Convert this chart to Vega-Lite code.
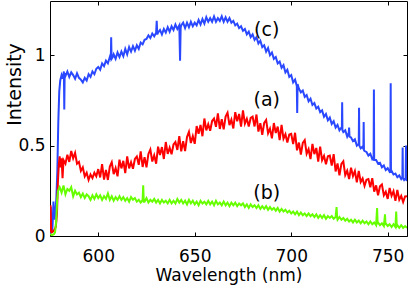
{
"$schema": "https://vega.github.io/schema/vega-lite/v6.json",
"width": 357, "height": 235,
"autosize": "none",
"padding": {"left": 50, "top": 1, "right": 1, "bottom": 56},
"config": {"view": {"stroke": "#000", "strokeWidth": 1}, "font": "DejaVu Sans",
  "axis": {"labelFont": "DejaVu Sans", "labelFontSize": 17, "labelColor": "#000", "titleFont": "DejaVu Sans", "titleFontSize": 17, "titleFontWeight": "normal", "titleColor": "#000", "tickColor": "#000", "domain": false, "grid": false}},
"datasets": {
"c": [
{"w":575,"v":0.01},{"w":575.4,"v":0.16},{"w":575.8,"v":0.02},{"w":576.3,"v":0.05},{"w":576.8,"v":0.19},{"w":577.3,"v":0.09},{"w":577.8,"v":0.13},{"w":578.3,"v":0.21},{"w":578.8,"v":0.36},{"w":579.3,"v":0.63},{"w":579.8,"v":0.8},{"w":580.3,"v":0.86},{"w":581,"v":0.89},{"w":581.6,"v":0.87},{"w":582.2,"v":0.91},{"w":582.4,"v":0.7},{"w":582.6,"v":0.9},{"w":583,"v":0.885},{"w":584,"v":0.91},{"w":585,"v":0.88},{"w":586,"v":0.905},{"w":587,"v":0.89},{"w":588,"v":0.87},{"w":589,"v":0.9},{"w":590,"v":0.875},{"w":591,"v":0.865},{"w":592,"v":0.85},{"w":593,"v":0.875},{"w":594,"v":0.86},{"w":595,"v":0.895},{"w":596,"v":0.88},{"w":597,"v":0.91},{"w":598,"v":0.895},{"w":599,"v":0.925},
{"w":600,"v":0.935},{"w":601,"v":0.92},{"w":602,"v":0.955},{"w":603,"v":0.94},{"w":604,"v":0.97},{"w":605,"v":0.955},{"w":606,"v":0.99},{"w":606.5,"v":0.975},{"w":606.7,"v":1.1},{"w":606.9,"v":0.98},{"w":607.5,"v":0.99},{"w":608,"v":1.005},{"w":609,"v":0.98},{"w":610,"v":1.015},{"w":611,"v":0.99},{"w":612,"v":1.02},{"w":613,"v":0.995},{"w":614,"v":1.035},{"w":615,"v":1.005},{"w":616,"v":1.045},{"w":617,"v":1.02},{"w":618,"v":1.05},{"w":619,"v":1.025},{"w":620,"v":1.055},{"w":621,"v":1.035},{"w":622,"v":1.07},{"w":623,"v":1.06},{"w":624,"v":1.085},{"w":625,"v":1.09},{"w":626,"v":1.11},{"w":627,"v":1.095},{"w":628,"v":1.12},{"w":629,"v":1.105},{"w":630,"v":1.125},{"w":630.3,"v":1.19},{"w":630.6,"v":1.115},{"w":631,"v":1.125},{"w":632,"v":1.14},{"w":633,"v":1.115},{"w":634,"v":1.145},{"w":635,"v":1.125},{"w":636,"v":1.155},{"w":637,"v":1.13},{"w":638,"v":1.16},{"w":639,"v":1.14},{"w":640,"v":1.17},{"w":641,"v":1.145},{"w":642,"v":1.165},{"w":642.4,"v":0.97},{"w":642.7,"v":1.15},{"w":643,"v":1.165},{"w":644,"v":1.18},{"w":645,"v":1.15},{"w":646,"v":1.18},{"w":647,"v":1.155},{"w":648,"v":1.185},{"w":649,"v":1.16},
{"w":650,"v":1.18},{"w":651,"v":1.165},{"w":652,"v":1.195},{"w":653,"v":1.17},{"w":654,"v":1.2},{"w":655,"v":1.175},{"w":656,"v":1.21},{"w":657,"v":1.185},{"w":658,"v":1.205},{"w":659,"v":1.185},{"w":660,"v":1.215},{"w":661,"v":1.185},{"w":662,"v":1.205},{"w":663,"v":1.19},{"w":664,"v":1.215},{"w":665,"v":1.185},{"w":666,"v":1.21},{"w":667,"v":1.185},{"w":668,"v":1.205},{"w":669,"v":1.18},{"w":670,"v":1.19},{"w":671,"v":1.165},{"w":672,"v":1.175},{"w":673,"v":1.15},{"w":674,"v":1.16},{"w":675,"v":1.135},{"w":676,"v":1.145},{"w":677,"v":1.115},{"w":678,"v":1.13},{"w":679,"v":1.1},{"w":680,"v":1.115},{"w":681,"v":1.085},{"w":682,"v":1.1},{"w":683,"v":1.065},{"w":684,"v":1.08},{"w":685,"v":1.045},{"w":686,"v":1.055},{"w":687,"v":1.02},{"w":688,"v":1.04},{"w":689,"v":1.0},{"w":690,"v":1.015},{"w":691,"v":0.98},{"w":692,"v":0.99},{"w":693,"v":0.955},{"w":694,"v":0.965},{"w":695,"v":0.93},{"w":696,"v":0.945},{"w":697,"v":0.905},{"w":698,"v":0.92},{"w":699,"v":0.88},
{"w":700,"v":0.89},{"w":701,"v":0.85},{"w":702,"v":0.865},{"w":702.9,"v":0.83},{"w":703.1,"v":0.68},{"w":703.3,"v":0.84},{"w":704,"v":0.815},{"w":705,"v":0.795},{"w":706,"v":0.805},{"w":707,"v":0.77},{"w":708,"v":0.78},{"w":709,"v":0.745},{"w":710,"v":0.76},{"w":711,"v":0.725},{"w":712,"v":0.735},{"w":713,"v":0.705},{"w":714,"v":0.715},{"w":715,"v":0.685},{"w":716,"v":0.695},{"w":717,"v":0.66},{"w":718,"v":0.675},{"w":719,"v":0.64},{"w":720,"v":0.655},{"w":721,"v":0.62},{"w":722,"v":0.635},{"w":723,"v":0.6},{"w":724,"v":0.615},{"w":725,"v":0.585},{"w":726,"v":0.6},{"w":726.25,"v":0.59},{"w":726.4,"v":0.74},{"w":726.55,"v":0.585},{"w":727,"v":0.575},{"w":728,"v":0.585},{"w":729,"v":0.55},{"w":729.8,"v":0.57},{"w":730,"v":0.6},{"w":730.2,"v":0.55},{"w":731,"v":0.545},{"w":732,"v":0.525},{"w":733,"v":0.535},{"w":734,"v":0.5},{"w":735,"v":0.51},{"w":735.15,"v":0.71},{"w":735.3,"v":0.5},{"w":736,"v":0.485},{"w":737,"v":0.495},{"w":737.4,"v":0.48},{"w":737.55,"v":0.63},{"w":737.7,"v":0.475},{"w":738,"v":0.47},{"w":739,"v":0.465},{"w":740,"v":0.445},{"w":741,"v":0.455},{"w":742,"v":0.425},{"w":742.7,"v":0.435},{"w":742.85,"v":0.81},{"w":743,"v":0.42},{"w":744,"v":0.42},{"w":745,"v":0.4},{"w":746,"v":0.405},{"w":747,"v":0.38},{"w":748,"v":0.39},{"w":749,"v":0.365},
{"w":750,"v":0.375},{"w":751,"v":0.355},{"w":751.4,"v":0.36},{"w":751.55,"v":0.845},{"w":751.7,"v":0.35},{"w":752,"v":0.36},{"w":753,"v":0.34},{"w":754,"v":0.345},{"w":755,"v":0.325},{"w":756,"v":0.335},{"w":757,"v":0.315},{"w":757.6,"v":0.325},{"w":757.75,"v":0.49},{"w":757.9,"v":0.32},{"w":758.5,"v":0.31},{"w":759.3,"v":0.32},{"w":759.5,"v":0.5},{"w":759.7,"v":0.31},{"w":760,"v":0.305}
],
"a": [
{"w":575,"v":0.02},{"w":575.3,"v":0.17},{"w":575.6,"v":0.03},{"w":576,"v":0.02},{"w":577,"v":0.03},{"w":578,"v":0.05},{"w":578.6,"v":0.12},{"w":579.1,"v":0.3},{"w":579.6,"v":0.4},{"w":580,"v":0.44},{"w":580.5,"v":0.38},{"w":581,"v":0.43},{"w":581.5,"v":0.32},{"w":582,"v":0.42},{"w":583,"v":0.4},{"w":584,"v":0.45},{"w":585,"v":0.41},{"w":586,"v":0.47},{"w":587,"v":0.43},{"w":588,"v":0.46},{"w":589,"v":0.4},{"w":590,"v":0.41},{"w":591,"v":0.36},{"w":592,"v":0.38},{"w":593,"v":0.33},{"w":594,"v":0.35},{"w":595,"v":0.31},{"w":596,"v":0.34},{"w":597,"v":0.32},{"w":598,"v":0.35},{"w":599,"v":0.33},
{"w":600,"v":0.37},{"w":601,"v":0.324},{"w":602,"v":0.398},{"w":603,"v":0.312},{"w":604,"v":0.366},{"w":605,"v":0.31},{"w":606,"v":0.384},{"w":607,"v":0.408},{"w":608,"v":0.342},{"w":609,"v":0.376},{"w":610,"v":0.33},{"w":611,"v":0.422},{"w":612,"v":0.374},{"w":613,"v":0.416},{"w":614,"v":0.348},{"w":615,"v":0.44},{"w":616,"v":0.374},{"w":617,"v":0.408},{"w":618,"v":0.372},{"w":619,"v":0.426},{"w":620,"v":0.44},{"w":621,"v":0.394},{"w":622,"v":0.468},{"w":623,"v":0.382},{"w":624,"v":0.436},{"w":625,"v":0.38},{"w":626,"v":0.454},{"w":627,"v":0.478},{"w":628,"v":0.412},{"w":629,"v":0.446},{"w":630,"v":0.4},{"w":631,"v":0.494},{"w":632,"v":0.448},{"w":633,"v":0.492},{"w":634,"v":0.426},{"w":635,"v":0.52},{"w":636,"v":0.454},{"w":637,"v":0.488},{"w":638,"v":0.452},{"w":639,"v":0.506},{"w":640,"v":0.52},{"w":641,"v":0.476},{"w":642,"v":0.552},{"w":643,"v":0.468},{"w":644,"v":0.524},{"w":645,"v":0.47},{"w":646,"v":0.548},{"w":647,"v":0.576},{"w":648,"v":0.514},{"w":649,"v":0.552},
{"w":650,"v":0.51},{"w":651,"v":0.608},{"w":652,"v":0.566},{"w":653,"v":0.614},{"w":654,"v":0.552},{"w":655,"v":0.65},{"w":656,"v":0.584},{"w":657,"v":0.618},{"w":658,"v":0.582},{"w":659,"v":0.636},{"w":660,"v":0.65},{"w":661,"v":0.604},{"w":662,"v":0.678},{"w":663,"v":0.592},{"w":664,"v":0.646},{"w":665,"v":0.59},{"w":666,"v":0.661},{"w":667,"v":0.682},{"w":668,"v":0.613},{"w":669,"v":0.644},{"w":670,"v":0.595},{"w":671,"v":0.685},{"w":672,"v":0.635},{"w":673,"v":0.675},{"w":674,"v":0.605},{"w":675,"v":0.695},{"w":676,"v":0.622},{"w":677,"v":0.649},{"w":678,"v":0.606},{"w":679,"v":0.653},{"w":680,"v":0.66},{"w":681,"v":0.606},{"w":682,"v":0.672},{"w":683,"v":0.578},{"w":684,"v":0.624},{"w":685,"v":0.56},{"w":686,"v":0.626},{"w":687,"v":0.642},{"w":688,"v":0.568},{"w":689,"v":0.594},{"w":690,"v":0.54},{"w":691,"v":0.625},{"w":692,"v":0.57},{"w":693,"v":0.605},{"w":694,"v":0.53},{"w":695,"v":0.615},{"w":696,"v":0.539},{"w":697,"v":0.563},{"w":698,"v":0.517},{"w":699,"v":0.561},
{"w":700,"v":0.565},{"w":701,"v":0.508},{"w":702,"v":0.571},{"w":703,"v":0.474},{"w":704,"v":0.517},{"w":705,"v":0.45},{"w":706,"v":0.515},{"w":707,"v":0.53},{"w":708,"v":0.455},{"w":709,"v":0.48},{"w":710,"v":0.425},{"w":711,"v":0.509},{"w":712,"v":0.453},{"w":713,"v":0.487},{"w":714,"v":0.411},{"w":715,"v":0.495},{"w":716,"v":0.419},{"w":717,"v":0.443},{"w":718,"v":0.397},{"w":719,"v":0.441},{"w":720,"v":0.445},{"w":721,"v":0.389},{"w":722,"v":0.453},{"w":723,"v":0.357},{"w":724,"v":0.401},{"w":725,"v":0.335},{"w":726,"v":0.399},{"w":727,"v":0.413},{"w":728,"v":0.337},{"w":729,"v":0.361},{"w":730,"v":0.315},{"w":731,"v":0.378},{"w":732,"v":0.331},{"w":733,"v":0.359},{"w":734,"v":0.297},{"w":735,"v":0.36},{"w":736,"v":0.299},{"w":737,"v":0.318},{"w":738,"v":0.277},{"w":739,"v":0.311},{"w":740,"v":0.315},{"w":741,"v":0.27},{"w":742,"v":0.32},{"w":743,"v":0.245},{"w":744,"v":0.28},{"w":745,"v":0.225},{"w":746,"v":0.275},{"w":747,"v":0.285},{"w":748,"v":0.225},{"w":749,"v":0.245},
{"w":750,"v":0.205},{"w":751,"v":0.266},{"w":752,"v":0.222},{"w":753,"v":0.248},{"w":754,"v":0.194},{"w":755,"v":0.255},{"w":756,"v":0.201},{"w":757,"v":0.222},{"w":758,"v":0.188},{"w":759,"v":0.219},{"w":760,"v":0.22}
],
"b": [
{"w":575,"v":0.01},{"w":576,"v":0.005},{"w":577,"v":0.01},{"w":577.6,"v":0.02},{"w":578.2,"v":0.08},{"w":578.7,"v":0.2},{"w":579.2,"v":0.25},{"w":580,"v":0.27},{"w":581,"v":0.24},{"w":582,"v":0.28},{"w":583,"v":0.23},{"w":584,"v":0.26},{"w":585,"v":0.25},{"w":586,"v":0.27},{"w":587,"v":0.22},{"w":588,"v":0.25},{"w":589,"v":0.23},{"w":590,"v":0.24},{"w":591,"v":0.215},{"w":592,"v":0.235},{"w":593,"v":0.21},{"w":594,"v":0.23},{"w":595,"v":0.22},{"w":596,"v":0.2},{"w":597,"v":0.225},{"w":598,"v":0.205},{"w":599,"v":0.23},
{"w":600,"v":0.21},{"w":601,"v":0.225},{"w":602,"v":0.2},{"w":603,"v":0.22},{"w":604,"v":0.205},{"w":605,"v":0.235},{"w":606,"v":0.2},{"w":607,"v":0.22},{"w":608,"v":0.195},{"w":609,"v":0.215},{"w":610,"v":0.2},{"w":611,"v":0.22},{"w":612,"v":0.2},{"w":613,"v":0.215},{"w":614,"v":0.195},{"w":615,"v":0.21},{"w":616,"v":0.19},{"w":617,"v":0.215},{"w":618,"v":0.2},{"w":619,"v":0.21},{"w":620,"v":0.19},{"w":621,"v":0.2},{"w":622,"v":0.185},{"w":623,"v":0.2},{"w":623.3,"v":0.28},{"w":623.6,"v":0.19},{"w":624,"v":0.19},{"w":625,"v":0.21},{"w":626,"v":0.185},{"w":627,"v":0.2},{"w":628,"v":0.19},{"w":629,"v":0.205},{"w":630,"v":0.185},{"w":631,"v":0.2},{"w":632,"v":0.18},{"w":633,"v":0.2},{"w":634,"v":0.185},{"w":635,"v":0.195},{"w":636,"v":0.18},{"w":637,"v":0.2},{"w":638,"v":0.18},{"w":639,"v":0.195},{"w":640,"v":0.18},{"w":641,"v":0.205},{"w":642,"v":0.185},{"w":643,"v":0.2},{"w":644,"v":0.18},{"w":645,"v":0.195},{"w":646,"v":0.175},{"w":647,"v":0.2},{"w":648,"v":0.18},{"w":649,"v":0.195},
{"w":650,"v":0.175},{"w":651,"v":0.19},{"w":652,"v":0.17},{"w":653,"v":0.195},{"w":654,"v":0.18},{"w":655,"v":0.19},{"w":656,"v":0.175},{"w":657,"v":0.195},{"w":658,"v":0.175},{"w":659,"v":0.19},{"w":660,"v":0.17},{"w":661,"v":0.195},{"w":662,"v":0.175},{"w":663,"v":0.185},{"w":664,"v":0.17},{"w":665,"v":0.19},{"w":666,"v":0.17},{"w":667,"v":0.185},{"w":668,"v":0.165},{"w":669,"v":0.185},{"w":670,"v":0.17},{"w":671,"v":0.185},{"w":672,"v":0.165},{"w":673,"v":0.18},{"w":674,"v":0.17},{"w":675,"v":0.18},{"w":676,"v":0.16},{"w":677,"v":0.175},{"w":678,"v":0.155},{"w":679,"v":0.175},{"w":680,"v":0.16},{"w":681,"v":0.17},{"w":682,"v":0.155},{"w":683,"v":0.17},{"w":684,"v":0.15},{"w":685,"v":0.165},{"w":686,"v":0.15},{"w":687,"v":0.165},{"w":688,"v":0.145},{"w":689,"v":0.16},{"w":690,"v":0.145},{"w":691,"v":0.155},{"w":692,"v":0.14},{"w":693,"v":0.155},{"w":694,"v":0.135},{"w":695,"v":0.15},{"w":696,"v":0.135},{"w":697,"v":0.145},{"w":698,"v":0.13},{"w":699,"v":0.14},
{"w":700,"v":0.125},{"w":701,"v":0.135},{"w":702,"v":0.12},{"w":703,"v":0.135},{"w":704,"v":0.115},{"w":705,"v":0.13},{"w":706,"v":0.115},{"w":707,"v":0.125},{"w":708,"v":0.11},{"w":709,"v":0.125},{"w":710,"v":0.11},{"w":711,"v":0.12},{"w":712,"v":0.105},{"w":713,"v":0.12},{"w":714,"v":0.1},{"w":715,"v":0.115},{"w":716,"v":0.1},{"w":717,"v":0.115},{"w":718,"v":0.095},{"w":719,"v":0.11},{"w":720,"v":0.1},{"w":721,"v":0.11},{"w":722,"v":0.095},{"w":723,"v":0.105},{"w":723.5,"v":0.16},{"w":723.8,"v":0.1},{"w":724,"v":0.09},{"w":725,"v":0.105},{"w":726,"v":0.09},{"w":727,"v":0.1},{"w":728,"v":0.085},{"w":729,"v":0.095},{"w":730,"v":0.08},{"w":731,"v":0.09},{"w":732,"v":0.075},{"w":733,"v":0.09},{"w":734,"v":0.075},{"w":735,"v":0.085},{"w":736,"v":0.07},{"w":737,"v":0.085},{"w":738,"v":0.07},{"w":739,"v":0.08},{"w":740,"v":0.065},{"w":741,"v":0.08},{"w":742,"v":0.065},{"w":743,"v":0.075},{"w":744,"v":0.06},{"w":744.5,"v":0.155},{"w":744.8,"v":0.065},{"w":745,"v":0.075},{"w":746,"v":0.06},{"w":747,"v":0.07},{"w":748,"v":0.055},{"w":748.6,"v":0.12},{"w":748.9,"v":0.06},{"w":749,"v":0.07},
{"w":750,"v":0.055},{"w":751,"v":0.065},{"w":752,"v":0.05},{"w":753,"v":0.065},{"w":754,"v":0.05},{"w":754.4,"v":0.135},{"w":754.7,"v":0.055},{"w":755,"v":0.06},{"w":756,"v":0.045},{"w":757,"v":0.06},{"w":758,"v":0.045},{"w":759,"v":0.055},{"w":760,"v":0.045}
],
"lbl": [
{"w":687.3,"v":1.14,"t":"(c)"},{"w":687.3,"v":0.75,"t":"(a)"},{"w":687.3,"v":0.238,"t":"(b)"}
]
},
"resolve": {"axis": {"x": "independent", "y": "independent"}},
"layer": [
{"data": {"name": "c"}, "mark": {"type": "line", "color": "#2a48ff", "strokeWidth": 2, "clip": true},
 "encoding": {
  "x": {"field": "w", "type": "quantitative", "scale": {"domain": [575, 760], "nice": false, "zero": false},
        "axis": {"orient": "bottom", "values": [600, 650, 700, 750], "ticks": false, "labelPadding": 12, "labelFlush": false, "title": "Wavelength (nm)", "titleBaseline": "alphabetic", "titleY": 44}},
  "y": {"field": "v", "type": "quantitative", "scale": {"domain": [0, 1.3], "nice": false},
        "axis": {"orient": "left", "values": [0, 0.5, 1], "format": "~g", "ticks": false, "labelPadding": 5, "labelFlush": false, "title": "Intensity", "titleFontSize": 19, "titleAngle": 270, "titleAlign": "center", "titleBaseline": "alphabetic", "titleX": -30, "titleY": 83}}
 }},
{"data": {"name": "a"}, "mark": {"type": "line", "color": "#ff0000", "strokeWidth": 2, "clip": true},
 "encoding": {
  "x": {"field": "w", "type": "quantitative", "axis": {"orient": "bottom", "values": [600, 650, 700, 750], "labels": false, "tickSize": -4, "title": null}},
  "y": {"field": "v", "type": "quantitative", "axis": {"orient": "left", "values": [0, 0.5, 1], "labels": false, "tickSize": -4, "title": null}}}},
{"data": {"name": "b"}, "mark": {"type": "line", "color": "#66ff00", "strokeWidth": 2, "clip": true},
 "encoding": {"x": {"field": "w", "type": "quantitative", "axis": null}, "y": {"field": "v", "type": "quantitative", "axis": null}}},
{"data": {"name": "lbl"}, "mark": {"type": "text", "font": "DejaVu Sans", "fontSize": 19, "color": "#000", "align": "center", "baseline": "middle"},
 "encoding": {
  "x": {"field": "w", "type": "quantitative", "axis": {"orient": "top", "values": [600, 650, 700, 750], "labels": false, "tickSize": -4, "title": null}},
  "y": {"field": "v", "type": "quantitative", "axis": {"orient": "right", "values": [0, 0.5, 1], "labels": false, "tickSize": -4, "title": null}},
  "text": {"field": "t"}}}
]
}
